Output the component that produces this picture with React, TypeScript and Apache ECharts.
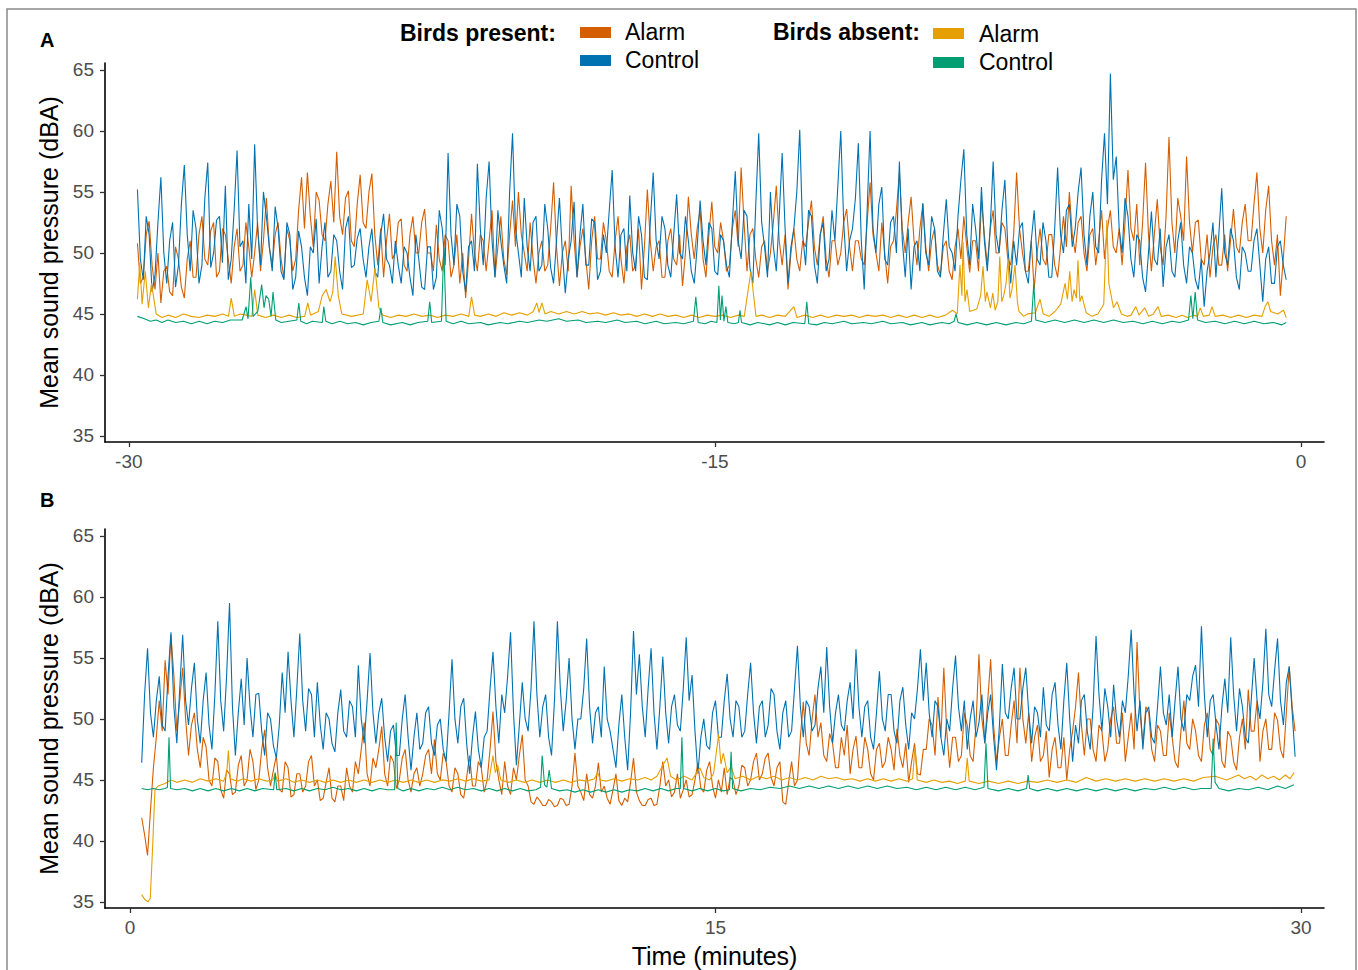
import React, { useEffect, useRef } from "react";
import * as echarts from "echarts";

// ---------- Panel A (before, minutes -30 .. 0) ----------
const A_T0 = -29.78;
const STEP = 0.075;
const aTicksX = [-30, -15, 0];
const yTicks = [35, 40, 45, 50, 55, 60, 65];

// Birds present: Alarm (orange)
const aPresentAlarm = [
  50.8, 47.5, 48, 51.5, 52.6, 49, 47, 50, 45.9, 48.5, 48.9, 46.8, 46.5, 50.5, 49.5, 47.2, 46.3, 49.5, 51, 48,
  48, 51.5, 53, 49.5, 49, 51.8, 52.5, 48, 48.5, 52, 51.5, 49.5, 47.5, 50.5, 52, 48.5, 49, 52.5, 50.5, 48,
  50, 52.5, 48.5, 51, 54.5, 50.5, 49, 51.5, 52.5, 49.5, 48, 52, 51, 48.5, 49.5, 53.5, 56.2, 52, 56.6, 53,
  50.5, 55, 54.3, 51.5, 51, 54, 55.9, 52.5, 58.3, 53, 51.5, 54.5, 55.1, 51, 50.5, 54, 56.4, 52.5, 52, 55,
  56.5, 51.5, 49, 52, 48, 51, 53.2, 49.5, 50, 52.5, 52.8, 49, 48.5, 51.5, 53, 50, 50, 52.5, 53.6, 50,
  50, 48.5, 52.3, 49.5, 48.5, 51.5, 51, 48, 49, 51.5, 47.5, 50, 46.3, 49.5, 53.2, 50, 48.5, 51.5, 51, 48.5,
  51, 53.5, 48, 50.5, 53, 49.5, 48.2, 51.5, 54.3, 50.5, 55, 51.5, 50, 48.5, 52.5, 49.5, 47.5, 50, 51, 48.5,
  49, 52, 55.8, 50.5, 47.3, 50, 51, 48.5, 55.5, 51, 48, 50.5, 52, 49.5, 47, 51, 53, 49.5, 49.5, 52.5,
  51, 48.5, 48, 51, 53, 49.5, 47.5, 50.5, 51.5, 48.5, 49, 52, 47, 50.5, 55.2, 51, 48.5, 50.5, 51, 48,
  48, 51, 52, 49.5, 49, 51.5, 47.3, 50, 54.6, 51.5, 49.5, 52, 53.5, 49.5, 48, 51.5, 54.2, 50.5, 50, 52.5,
  51, 48.5, 49, 52, 53.5, 50.5, 57, 52.5, 48.5, 51.5, 52, 49.5, 48, 50.5, 51, 48.5, 50, 52.5, 55.5, 51,
  49, 51.5, 47, 50, 52, 49.5, 48.5, 51, 50.5, 52.5, 54.3, 50.5, 49, 51.5, 53, 49.5, 48, 51, 51, 49,
  50, 52.5, 53.6, 50.5, 48.5, 51, 51, 49.5, 49, 52.5, 55.8, 51.5, 50, 48.5, 52.5, 50, 47.5, 50.5, 51, 53.5,
  56.6, 52, 50, 52.5, 54.6, 51, 49, 52, 54, 50.5, 48.5, 51, 52, 49, 48.2, 50.5, 51, 48.5, 47.8, 50.5,
  52, 49.5, 53, 50.5, 48.4, 51, 51, 48.5, 54.3, 51.5, 49, 52, 53.5, 50, 50, 52.5, 52, 49.5, 49, 51.5,
  56.6, 52, 50, 48.5, 48.5, 51, 47, 50, 52, 49.5, 49, 51.5, 51.5, 49, 48, 50.5, 53, 50.5, 55, 51.5,
  50, 52.5, 53, 50, 48.5, 51.5, 52, 49, 51, 53.5, 49.5, 52, 53.5, 50.5, 50, 52, 49, 52.5, 56.8, 52,
  51, 54, 49, 52.5, 57.4, 51.5, 48.5, 51.5, 54.4, 50.5, 49, 53, 59.5, 52.5, 50, 54.5, 53, 51, 57.9, 52.5,
  50, 52.5, 52.7, 49.5, 49, 51.5, 48, 50.5, 51.5, 49, 49, 51.5, 48.5, 51, 53.6, 50.5, 50, 52.5, 54, 51,
  51, 54, 56.6, 52, 50, 53.5, 55.5, 51, 49, 51.5, 46.5, 49.5, 53,
];

// Birds present: Control (blue)
const aPresentControl = [
  55.2, 49.5, 47.8, 53, 51.5, 46.8, 48.2, 52.5, 56.2, 50, 47.5, 51, 52.5, 47.2, 49, 54, 57.2, 51.5, 48.5, 53.5,
  52, 47.5, 49, 54.5, 57.4, 48.8, 50, 52.7, 53, 49.2, 55.5, 47.8, 49.5, 53.5, 58.4, 50.5, 51, 47.5, 54, 49.5,
  58.9, 52, 49, 55, 53, 50.5, 48.5, 53.8, 52, 48.5, 47.8, 52.5, 51.5, 47, 48, 51.8, 50.5, 48, 46.5, 50.5,
  50, 52.8, 47.5, 50.5, 52.5, 48, 48.5, 51.5, 51, 48.5, 47, 52, 53, 48.8, 49, 51.2, 52, 49.5, 48, 50.5,
  52, 48.5, 48, 51.5, 53.2, 49.5, 49, 47.5, 51, 49, 47.5, 50.5, 50, 48, 46.5, 51.5, 49.5, 47.2, 47, 50.5,
  50.5, 47, 48, 53.5, 52, 49, 58.2, 51.5, 49, 54, 53, 48.5, 46.8, 50.5, 51, 48.5, 57.3, 52, 49, 54.5,
  57.5, 51, 48, 53.5, 51, 49, 47.5, 55, 59.8, 52, 50, 48, 54.5, 50.5, 48.5, 52.5, 53, 48.5, 49, 54,
  52, 48.8, 47.5, 51, 54.5, 50, 46.7, 49.5, 51, 54.2, 48, 51.5, 54, 49, 49, 52.8, 52.5, 47.8, 48.5, 51.5,
  50, 53.5, 56.8, 50.5, 48, 51.5, 52, 48.5, 54.7, 50, 48.5, 53, 51.5, 48, 47.8, 52.5, 56.6, 51, 49.5, 53,
  52, 49, 48, 51.5, 54.8, 50, 49.5, 53, 51, 48.5, 47.5, 50.5, 54.3, 51, 49, 52.5, 52, 48.5, 48.2, 51.5,
  51, 49, 48, 52.5, 56.7, 51, 49.5, 53.5, 53, 48.8, 47.5, 54, 59.8, 52.5, 50.5, 48, 55, 50.5, 48.5, 53,
  58.2, 52, 47.5, 50.5, 52, 55, 60.1, 51.5, 49, 53.5, 53, 49, 47.5, 51.5, 52.5, 48.5, 49.5, 53.5, 51, 55.5,
  60, 52.5, 48.5, 51, 52, 54.5, 59, 51, 47, 53.5, 60, 52, 50, 54, 55.4, 49.5, 49, 52.5, 53, 50,
  57.5, 51, 48, 52, 47, 50.5, 51, 48.5, 54.1, 50, 49, 53, 52, 48.5, 48, 51.5, 54.4, 50.5, 50, 48.5,
  53, 56, 58.5, 51.5, 49, 54, 52, 49.5, 55.4, 51, 48.5, 52, 57.5, 51.5, 50, 53.5, 56, 50.5, 47.5, 51,
  49, 52, 52.5, 48.5, 47.5, 51, 53.5, 49.5, 49, 52.5, 51, 48, 48, 52, 57, 51.5, 50, 53.5, 54, 50.5,
  52, 55, 57, 51.5, 49, 53, 55, 50.5, 50, 56, 59.8, 54, 64.7, 56, 57.9, 52, 50, 54.5, 53, 49.5,
  48, 51.5, 51, 48, 46.8, 50, 53.4, 49.5, 49, 52, 47.2, 50.5, 51.5, 48.5, 48, 51, 52.5, 49, 47.5, 50.5,
  50, 47.8, 47, 49.5, 45.6, 48.5, 50, 52.5, 48, 51.5, 55.3, 50, 49, 52, 51, 48, 47, 50.5, 50, 48.5,
  48.5, 51, 52, 49, 46, 49.5, 50.5, 47.5, 47.5, 50.5, 51, 49, 47.8,
];

// Birds absent: Alarm (yellow) as [minute, dBA]
const aAbsentAlarm: [number, number][] = [
  [-29.78, 46.2], [-29.72, 49.2], [-29.66, 45.8], [-29.58, 48.5], [-29.5, 45.5], [-29.42, 47.5], [-29.3, 45.0],
  [-29.15, 44.7], [-29.0, 44.9], [-28.8, 44.7], [-28.6, 45.0], [-28.4, 44.8], [-28.2, 44.7], [-28.0, 44.9],
  [-27.8, 44.8], [-27.6, 45.0], [-27.45, 44.8], [-27.38, 46.3], [-27.3, 44.8], [-27.15, 45.0], [-27.0, 44.9],
  [-26.85, 44.8], [-26.78, 47.0], [-26.7, 44.9], [-26.5, 44.7], [-26.3, 44.9], [-26.1, 44.7], [-25.9, 44.9],
  [-25.7, 44.7], [-25.5, 44.8], [-25.42, 45.9], [-25.35, 44.9], [-25.15, 45.2], [-25.05, 46.5], [-24.95, 47.0],
  [-24.85, 46.0], [-24.78, 46.8], [-24.72, 49.7], [-24.64, 46.5], [-24.55, 45.0], [-24.3, 44.8], [-24.0, 45.0],
  [-23.9, 47.8], [-23.8, 46.0], [-23.7, 48.8], [-23.6, 45.5], [-23.5, 44.9], [-23.3, 44.7], [-23.1, 44.9],
  [-22.9, 44.8], [-22.7, 45.0], [-22.5, 44.8], [-22.3, 44.9], [-22.1, 44.7], [-21.9, 44.9], [-21.7, 44.8],
  [-21.5, 45.0], [-21.3, 44.8], [-21.23, 46.4], [-21.15, 44.9], [-21.0, 44.8], [-20.8, 45.0], [-20.6, 44.8],
  [-20.4, 45.1], [-20.2, 44.9], [-20.0, 45.1], [-19.8, 44.9], [-19.65, 45.2], [-19.56, 45.9], [-19.5, 45.1],
  [-19.43, 45.9], [-19.35, 45.0], [-19.2, 45.2], [-19.0, 45.0], [-18.8, 45.2], [-18.6, 45.0], [-18.4, 45.2],
  [-18.2, 45.0], [-18.0, 45.1], [-17.8, 44.9], [-17.6, 45.1], [-17.4, 44.9], [-17.2, 45.0], [-17.0, 44.8],
  [-16.8, 45.0], [-16.6, 44.8], [-16.4, 45.0], [-16.2, 44.8], [-16.0, 44.9], [-15.8, 44.7], [-15.6, 44.9],
  [-15.4, 44.7], [-15.2, 44.9], [-15.0, 44.8], [-14.8, 44.9], [-14.6, 44.7], [-14.4, 44.9], [-14.25, 44.8],
  [-14.08, 48.5], [-13.95, 44.8], [-13.8, 44.9], [-13.6, 44.7], [-13.4, 44.9], [-13.2, 44.8], [-12.98, 45.6],
  [-12.9, 44.7], [-12.7, 44.9], [-12.5, 44.7], [-12.3, 44.9], [-12.1, 44.7], [-11.9, 44.9], [-11.7, 44.8],
  [-11.5, 44.9], [-11.3, 44.7], [-11.1, 44.9], [-10.9, 44.8], [-10.7, 44.9], [-10.5, 44.7], [-10.3, 44.9],
  [-10.1, 44.7], [-9.9, 44.9], [-9.7, 44.7], [-9.5, 44.9], [-9.3, 44.7], [-9.1, 44.9], [-8.92, 45.3],
  [-8.8, 45.0], [-8.73, 49.0], [-8.68, 46.5], [-8.65, 50.9], [-8.6, 46.0], [-8.55, 47.0], [-8.48, 45.2],
  [-8.3, 45.4], [-8.2, 46.5], [-8.14, 48.9], [-8.08, 46.0], [-8.04, 46.8], [-7.95, 45.5], [-7.89, 46.7],
  [-7.83, 45.3], [-7.76, 46.0], [-7.71, 49.7], [-7.66, 46.0], [-7.61, 46.5], [-7.55, 47.5], [-7.5, 49.5],
  [-7.45, 46.3], [-7.4, 47.0], [-7.32, 49.0], [-7.26, 46.0], [-7.22, 45.2], [-7.1, 44.8], [-7.0, 45.0],
  [-6.8, 45.1], [-6.68, 46.2], [-6.6, 45.0], [-6.45, 44.8], [-6.3, 45.2], [-6.15, 45.8], [-6.04, 47.5],
  [-5.98, 46.2], [-5.92, 48.5], [-5.86, 46.0], [-5.81, 47.0], [-5.75, 46.3], [-5.71, 49.4], [-5.66, 46.0],
  [-5.61, 46.5], [-5.5, 45.1], [-5.35, 44.8], [-5.2, 45.0], [-5.05, 45.8], [-4.97, 52.7], [-4.92, 47.5],
  [-4.89, 47.0], [-4.8, 45.5], [-4.71, 46.0], [-4.6, 45.0], [-4.45, 44.8], [-4.35, 44.9], [-4.23, 45.6],
  [-4.15, 44.9], [-4.0, 45.5], [-3.9, 44.8], [-3.78, 45.0], [-3.66, 45.6], [-3.58, 44.8], [-3.4, 44.9],
  [-3.2, 44.7], [-3.05, 44.9], [-2.9, 44.7], [-2.75, 44.9], [-2.65, 44.8], [-2.58, 45.5], [-2.5, 44.8],
  [-2.35, 44.9], [-2.28, 45.6], [-2.2, 44.8], [-2.0, 44.9], [-1.8, 44.7], [-1.6, 44.9], [-1.4, 44.7],
  [-1.2, 44.9], [-1.0, 44.8], [-0.92, 45.6], [-0.85, 46.0], [-0.78, 45.2], [-0.6, 45.0], [-0.45, 45.3],
  [-0.38, 44.7],
];

// Birds absent: Control (green) as [minute, dBA]
const aAbsentControl: [number, number][] = [
  [-29.78, 44.8], [-29.6, 44.6], [-29.45, 44.4], [-29.3, 44.5], [-29.15, 44.3], [-29.0, 44.5], [-28.8, 44.3],
  [-28.6, 44.4], [-28.4, 44.2], [-28.2, 44.4], [-28.0, 44.2], [-27.8, 44.4], [-27.6, 44.3], [-27.4, 44.5],
  [-27.1, 44.5], [-27.0, 45.6], [-26.95, 44.6], [-26.88, 48.0], [-26.82, 44.8], [-26.7, 45.2], [-26.6, 47.4],
  [-26.54, 45.5], [-26.49, 46.5], [-26.42, 46.2], [-26.36, 44.8], [-26.31, 46.8], [-26.24, 44.5], [-26.1, 44.3],
  [-25.9, 44.4], [-25.7, 44.5], [-25.65, 45.9], [-25.6, 44.4], [-25.45, 44.2], [-25.3, 44.4], [-25.05, 44.3],
  [-25.01, 45.6], [-24.96, 44.4], [-24.8, 44.2], [-24.6, 44.4], [-24.4, 44.2], [-24.2, 44.3], [-24.0, 44.1],
  [-23.8, 44.3], [-23.6, 44.4], [-23.55, 45.5], [-23.5, 44.3], [-23.3, 44.1], [-23.0, 44.3], [-22.8, 44.1],
  [-22.6, 44.3], [-22.35, 44.4], [-22.3, 46.0], [-22.25, 44.3], [-22.0, 44.4], [-21.94, 50.4], [-21.88, 44.4],
  [-21.7, 44.2], [-21.5, 44.4], [-21.3, 44.2], [-21.0, 44.3], [-20.8, 44.1], [-20.5, 44.3], [-20.3, 44.2],
  [-20.0, 44.4], [-19.8, 44.3], [-19.5, 44.5], [-19.3, 44.4], [-19.0, 44.6], [-18.8, 44.4], [-18.5, 44.5],
  [-18.3, 44.3], [-18.0, 44.4], [-17.8, 44.3], [-17.5, 44.5], [-17.3, 44.3], [-17.0, 44.4], [-16.8, 44.2],
  [-16.5, 44.4], [-16.3, 44.2], [-16.0, 44.3], [-15.8, 44.2], [-15.55, 44.4], [-15.49, 46.4], [-15.43, 44.3],
  [-15.25, 44.2], [-15.1, 44.4], [-14.95, 44.3], [-14.9, 47.3], [-14.86, 44.5], [-14.82, 46.5], [-14.77, 44.4],
  [-14.72, 45.6], [-14.67, 44.3], [-14.5, 44.2], [-14.4, 44.3], [-14.36, 45.3], [-14.32, 44.3], [-14.1, 44.1],
  [-13.9, 44.3], [-13.6, 44.1], [-13.4, 44.3], [-13.2, 44.1], [-13.0, 44.3], [-12.7, 44.2], [-12.65, 46.0],
  [-12.6, 44.2], [-12.4, 44.1], [-12.2, 44.3], [-12.0, 44.2], [-11.7, 44.4], [-11.5, 44.2], [-11.2, 44.3],
  [-11.0, 44.2], [-10.7, 44.4], [-10.5, 44.2], [-10.2, 44.3], [-10.0, 44.1], [-9.7, 44.3], [-9.5, 44.1],
  [-9.2, 44.3], [-9.0, 44.2], [-8.88, 44.4], [-8.83, 45.0], [-8.78, 44.3], [-8.55, 44.1], [-8.3, 44.3],
  [-8.05, 44.1], [-7.8, 44.3], [-7.55, 44.1], [-7.3, 44.3], [-7.1, 44.2], [-6.9, 44.4], [-6.84, 47.5],
  [-6.79, 44.5], [-6.55, 44.3], [-6.3, 44.5], [-6.05, 44.3], [-5.8, 44.5], [-5.55, 44.3], [-5.3, 44.5],
  [-5.05, 44.3], [-4.8, 44.5], [-4.55, 44.3], [-4.3, 44.4], [-4.05, 44.2], [-3.8, 44.4], [-3.55, 44.2],
  [-3.3, 44.4], [-3.1, 44.3], [-2.88, 44.5], [-2.82, 46.5], [-2.77, 44.6], [-2.71, 46.8], [-2.65, 44.5],
  [-2.45, 44.3], [-2.2, 44.4], [-1.95, 44.2], [-1.7, 44.4], [-1.45, 44.2], [-1.2, 44.4], [-0.95, 44.2],
  [-0.7, 44.3], [-0.5, 44.1], [-0.38, 44.3],
];

// ---------- Panel B (after, minutes 0 .. 30) ----------
const B_T0 = 0.3;
const bTicksX = [0, 15, 30];

const bPresentAlarm = [
  41.9, 40.5, 38.8, 42.5, 46, 48.5, 51.5, 49, 54.8, 52, 56.9, 53.5, 49, 51.5, 54.2, 50, 47, 49.5, 50.5, 47.5,
  46, 48.5, 47.7, 45, 44.5, 46.8, 46.5, 44.2, 43.5, 45.8, 45.5, 43.8, 44, 46.2, 47, 44.5, 45, 47.5, 46.5, 44.2,
  45, 47.5, 49.1, 46, 44.5, 45.8, 47, 44.2, 44, 46.5, 46, 43.6, 43.8, 45.5, 45.5, 44, 44.5, 46.5, 47, 44.5,
  45, 43.3, 43.5, 44.8, 46, 43.5, 43.2, 44.5, 44.5, 43.3, 46, 44.5, 44, 46.5, 45.5, 47.5, 49.7, 45.5, 44.5, 46.8,
  46, 47.5, 49.4, 45.5, 44.5, 47, 46.5, 44.3, 45, 46.8, 47.5, 45, 44, 45.5, 46, 44.5, 45.5, 47, 47.5, 45.5,
  48.3, 45.5, 45, 47.2, 46.5, 44.5, 44, 46, 45.5, 43.8, 43.5, 45.2, 47, 44.5, 44.5, 46.5, 46, 44, 45, 47.5,
  50.6, 46.5, 45, 43.8, 46.5, 44.5, 43.8, 46, 45, 47, 48.7, 45, 44.5, 43.2, 43, 43.6, 43.3, 42.9, 42.9, 43.4,
  43.2, 42.8, 42.9, 43.5, 43.4, 42.9, 43, 44.5, 47.2, 44.5, 44, 43.3, 45.5, 43.8, 43.5, 44.5, 46.4, 44, 44.5, 43.5,
  43, 44.2, 45.5, 43.3, 42.9, 43.5, 43.2, 44.8, 46.8, 44, 43.3, 42.9, 42.9, 43.4, 43.5, 42.9, 43, 44.5, 46.5, 44.5,
  45, 43.6, 44, 45.5, 43.5, 44.2, 45, 43.6, 43.8, 45, 46.4, 44.3, 44, 45.8, 46.5, 44.5, 43.5, 45, 44, 46,
  43.8, 45.2, 45, 43.8, 44.5, 46.2, 46, 44.5, 45, 46.5, 47.2, 45, 45.5, 46.8, 47.2, 45.2, 44.5, 46, 46.5, 43.2,
  43, 44.8, 46.5, 44.5, 45, 48.5, 51.4, 48, 47, 50, 52, 48.5, 49.7, 47, 46.5, 48.8, 48, 46, 46, 48.5,
  47, 49.5, 45.5, 47.5, 48.6, 46, 46, 48.5, 47.5, 45.5, 45, 47.5, 48, 46, 46.5, 48.5, 47.5, 45.8, 49.2, 47,
  46, 48, 44.8, 46.5, 48, 45.5, 45.4, 47.5, 47.5, 50, 49.5, 47, 51.8, 48.5, 54.2, 49, 46, 48.5, 48.5, 46.5,
  47, 50.5, 49.5, 47, 46.5, 49.5, 55.3, 50, 48, 51.5, 54.9, 49.5, 46.5, 48.5, 50, 47, 47, 49.5, 51.5, 48,
  54.2, 50, 48, 50.5, 46.5, 48.5, 49.5, 46.5, 47, 49, 45.2, 47.5, 48.5, 46, 46, 48.5, 45, 47.5, 49, 51,
  53.8, 49.5, 47, 50, 50, 47.5, 46.5, 49.5, 49, 46.5, 47.5, 50, 51, 48, 48, 50.5, 46.5, 48.5, 50.5, 47.5,
  56.3, 50.5, 48, 51, 50.5, 47.5, 46.5, 49.5, 49, 47, 47, 50.5, 48.5, 46.5, 46, 49, 51.5, 48, 47.5, 50,
  49, 47, 46.5, 49.5, 50.5, 47.5, 47, 50, 49.5, 46.5, 46, 49, 48.5, 46.5, 45.8, 48.5, 50, 47.5, 52.4, 49,
  49, 51.5, 46.5, 49, 50, 47.5, 47.5, 50.5, 49.9, 47.5, 46.8, 50.5, 54.3, 51, 49,
];

const bPresentControl = [
  46.4, 52, 55.8, 50.5, 48.5, 51.5, 53.5, 49.5, 49, 53.5, 57.1, 51, 48, 52.5, 56.9, 51.5, 49.5, 52.5, 54.6, 50,
  48, 51.5, 53.8, 49.5, 47.5, 52, 58, 51.5, 49, 53.5, 59.5, 51, 47, 50.5, 53.3, 49.5, 55, 51, 48.5, 52,
  52.1, 49, 47, 50.5, 50, 47.8, 46.8, 49.5, 53.8, 50.5, 55.5, 51.5, 48.5, 52.5, 57, 51.5, 49, 52.5, 52, 48.5,
  53, 49.5, 47.5, 50.5, 50, 48, 47.3, 50.5, 52.4, 49, 48.5, 51.5, 51, 48.5, 54.4, 50, 48, 51.5, 55.4, 50.5,
  48, 50.5, 51.7, 48.5, 46.5, 49, 49.5, 47, 47, 50, 52, 48.5, 45.8, 48.5, 50.5, 47.5, 48, 50.5, 51, 48,
  47, 49.5, 50, 47.5, 46.5, 50.5, 54.9, 50, 48, 51, 51.7, 48, 45.5, 48.5, 50.6, 47.5, 46, 48.5, 49, 52.5,
  55.5, 51, 48, 52, 50.5, 53.5, 57.1, 50.5, 46.2, 49.5, 53, 50, 49, 52.5, 58, 52, 48.5, 51, 52, 48.5,
  47, 51.5, 58, 52.5, 49, 51.5, 55, 50, 47.5, 50, 50, 52.5, 56.6, 51, 48, 50.5, 51, 48.5, 54.3, 50,
  49, 47.5, 46, 49.5, 52, 48.5, 45.8, 50.5, 57.2, 52, 55.3, 51, 48.5, 52.5, 55.8, 50.5, 47.5, 51, 55.1, 50.5,
  48, 51, 52, 49.5, 49, 52.5, 56.7, 51.5, 53.6, 49, 45.5, 48.5, 50, 47.8, 47.5, 50.5, 51.5, 48.5, 48.5, 51.5,
  53.7, 50, 48.5, 51.5, 51, 48.5, 49, 52, 54.6, 50.5, 48, 51, 51.5, 48.5, 49.5, 52.5, 52, 49, 47.5, 50.5,
  51.5, 48.5, 49, 52.5, 56, 51, 48.5, 51.5, 51, 49, 49.5, 52.5, 54.3, 50.5, 55.9, 51, 48, 50.5, 52, 49.5,
  49, 51.5, 53, 50, 55.7, 51, 48.5, 51, 51.5, 48.5, 47.5, 50.5, 53.9, 50, 49, 52, 52, 49, 48, 51.5,
  52.6, 49.5, 47.5, 50.5, 50, 52.5, 55.7, 51.5, 54.6, 50.5, 48.5, 51.5, 51, 48.5, 47, 50, 49, 52.5, 55.2, 51,
  49, 51.5, 47.5, 50, 51.5, 48.5, 49.7, 52, 48, 50.5, 52, 48.5, 45.8, 49.5, 54.5, 50.5, 50, 52.5, 54.2, 50,
  50, 52.5, 54.2, 50.5, 48, 51, 50.5, 48.5, 52.6, 49.5, 49, 52, 53, 49.5, 47.5, 51.5, 54.6, 50, 46.5, 49.5,
  48, 51.5, 52, 49, 47.5, 51, 56.8, 52, 49, 52.5, 51, 48.5, 52.8, 50, 48.5, 51.5, 50.5, 53.5, 57.3, 52,
  49, 51.5, 47.5, 50.5, 51, 48.5, 48, 51, 54.3, 50.5, 49.5, 52, 48.5, 51.5, 54.3, 50, 49, 52, 51.5, 53.5,
  54.4, 51, 57.6, 52, 48.5, 51.5, 52, 49.5, 47.5, 51, 53.3, 50.5, 56.7, 52, 49, 52.5, 51, 48.5, 48, 51.5,
  55, 51.5, 50, 53, 57.4, 52, 51, 54, 56.6, 51.5, 49.5, 53, 54.3, 50.5, 46.9,
];

const bAbsentAlarm: [number, number][] = [
  [0.3, 35.6], [0.38, 35.2], [0.46, 35.0], [0.52, 35.3], [0.58, 39.5], [0.64, 44.2], [0.72, 44.5], [0.9, 44.7],
  [1.05, 45.0], [1.2, 44.8], [1.4, 45.0], [1.6, 44.8], [1.8, 45.1], [2.0, 44.9], [2.2, 45.1], [2.4, 44.9],
  [2.48, 45.6], [2.52, 47.4], [2.57, 45.1], [2.75, 44.9], [2.9, 45.1], [3.1, 44.9], [3.3, 45.1], [3.5, 44.9],
  [3.66, 45.0], [3.72, 45.5], [3.78, 44.9], [4.0, 45.1], [4.2, 44.8], [4.4, 45.0], [4.6, 44.8], [4.8, 45.0],
  [5.0, 44.8], [5.2, 45.0], [5.4, 44.8], [5.6, 45.0], [5.8, 44.8], [6.0, 45.0], [6.2, 44.8], [6.4, 45.0],
  [6.6, 44.8], [6.8, 45.0], [7.0, 44.8], [7.2, 45.0], [7.4, 44.8], [7.6, 45.0], [7.8, 44.8], [8.0, 45.0],
  [8.2, 44.9], [8.4, 45.1], [8.6, 44.9], [8.8, 45.1], [9.0, 44.9], [9.2, 45.0], [9.3, 47.0], [9.36, 45.6],
  [9.42, 46.2], [9.5, 45.0], [9.7, 44.8], [9.9, 45.0], [10.1, 44.8], [10.3, 45.0], [10.5, 44.8], [10.7, 45.0],
  [10.9, 44.8], [11.1, 45.0], [11.3, 44.8], [11.5, 45.0], [11.7, 44.9], [11.9, 45.1], [11.98, 45.6], [12.05, 45.0],
  [12.2, 44.9], [12.4, 45.1], [12.6, 44.9], [12.8, 45.1], [13.0, 45.0], [13.2, 45.2], [13.35, 45.0], [13.5, 45.3],
  [13.65, 46.2], [13.76, 46.8], [13.85, 45.3], [14.0, 45.0], [14.2, 45.3], [14.4, 45.0], [14.6, 46.0], [14.7, 45.2],
  [14.85, 45.0], [14.95, 45.5], [15.08, 48.7], [15.14, 46.3], [15.2, 47.2], [15.3, 45.6], [15.4, 46.1], [15.5, 45.1],
  [15.7, 45.3], [15.9, 45.0], [16.1, 45.3], [16.3, 45.1], [16.5, 45.3], [16.7, 45.0], [16.9, 45.2], [17.1, 45.0],
  [17.3, 45.2], [17.5, 45.0], [17.7, 45.3], [17.9, 45.1], [18.1, 45.2], [18.3, 45.0], [18.5, 45.1], [18.7, 44.9],
  [18.9, 45.1], [19.1, 44.9], [19.3, 45.1], [19.5, 44.9], [19.7, 45.1], [19.9, 44.9], [20.05, 45.1], [20.11, 47.7],
  [20.17, 45.0], [20.4, 44.8], [20.6, 45.0], [20.8, 44.8], [21.0, 44.9], [21.2, 44.7], [21.4, 44.9], [21.45, 46.8],
  [21.5, 44.9], [21.75, 44.7], [22.0, 44.9], [22.25, 44.7], [22.5, 44.9], [22.75, 44.7], [23.0, 44.9], [23.25, 44.8],
  [23.5, 45.0], [23.75, 44.8], [24.0, 45.0], [24.25, 44.8], [24.5, 45.2], [24.75, 44.9], [25.0, 45.1], [25.25, 44.9],
  [25.5, 45.1], [25.75, 44.9], [26.0, 45.1], [26.25, 44.9], [26.5, 45.1], [26.75, 44.9], [27.0, 45.1], [27.25, 44.9],
  [27.5, 45.2], [27.8, 45.3], [28.1, 45.0], [28.4, 45.4], [28.55, 45.1], [28.7, 45.3], [28.85, 45.0], [29.0, 45.4],
  [29.15, 45.1], [29.3, 45.3], [29.45, 45.0], [29.6, 45.4], [29.72, 45.1], [29.82, 45.6],
];

const bAbsentControl: [number, number][] = [
  [0.3, 44.3], [0.45, 44.2], [0.6, 44.3], [0.75, 44.2], [0.9, 44.3], [0.96, 44.4], [1.0, 48.5], [1.04, 44.3],
  [1.2, 44.2], [1.4, 44.3], [1.6, 44.1], [1.8, 44.3], [2.0, 44.1], [2.2, 44.3], [2.4, 44.1], [2.6, 44.3],
  [2.8, 44.1], [3.0, 44.3], [3.2, 44.1], [3.4, 44.3], [3.68, 44.2], [3.72, 45.6], [3.76, 44.2], [4.0, 44.3],
  [4.2, 44.1], [4.4, 44.3], [4.6, 44.1], [4.8, 44.3], [5.0, 44.2], [5.2, 44.4], [5.4, 44.2], [5.6, 44.3],
  [5.8, 44.1], [6.0, 44.3], [6.2, 44.1], [6.4, 44.3], [6.6, 44.2], [6.78, 44.2], [6.82, 49.7], [6.86, 44.3],
  [7.0, 44.1], [7.2, 44.3], [7.4, 44.1], [7.6, 44.3], [7.8, 44.2], [8.0, 44.4], [8.2, 44.2], [8.4, 44.4],
  [8.6, 44.2], [8.8, 44.3], [9.0, 44.1], [9.2, 44.3], [9.4, 44.1], [9.6, 44.3], [9.8, 44.1], [10.0, 44.3],
  [10.2, 44.1], [10.4, 44.2], [10.52, 44.4], [10.56, 47.0], [10.62, 44.6], [10.68, 44.4], [10.74, 45.8], [10.8, 44.3],
  [11.0, 44.1], [11.2, 44.2], [11.4, 44.0], [11.6, 44.2], [11.8, 44.0], [12.0, 44.2], [12.2, 44.0], [12.4, 44.2],
  [12.6, 44.0], [12.8, 44.2], [13.0, 44.1], [13.2, 44.3], [13.4, 44.1], [13.6, 44.3], [13.8, 44.1], [14.0, 44.3],
  [14.1, 44.3], [14.14, 48.5], [14.18, 44.3], [14.4, 44.1], [14.6, 44.3], [14.8, 44.1], [15.0, 44.3], [15.2, 44.1],
  [15.36, 44.2], [15.4, 47.3], [15.44, 44.3], [15.65, 44.1], [15.9, 44.3], [16.15, 44.2], [16.4, 44.4], [16.65, 44.3],
  [16.9, 44.5], [17.15, 44.3], [17.4, 44.5], [17.65, 44.3], [17.9, 44.5], [18.15, 44.3], [18.4, 44.5], [18.65, 44.3],
  [18.9, 44.5], [19.15, 44.3], [19.4, 44.5], [19.65, 44.3], [19.9, 44.4], [20.15, 44.2], [20.4, 44.4], [20.65, 44.2],
  [20.9, 44.4], [21.15, 44.2], [21.4, 44.4], [21.65, 44.2], [21.88, 44.4], [21.93, 48.0], [21.98, 44.3], [22.25, 44.1],
  [22.5, 44.3], [22.75, 44.1], [22.97, 44.3], [23.01, 45.4], [23.05, 44.3], [23.25, 44.1], [23.5, 44.3], [23.75, 44.1],
  [24.0, 44.3], [24.25, 44.1], [24.5, 44.3], [24.75, 44.1], [25.0, 44.3], [25.25, 44.1], [25.5, 44.3], [25.75, 44.1],
  [26.0, 44.3], [26.25, 44.2], [26.5, 44.4], [26.75, 44.2], [27.0, 44.4], [27.25, 44.2], [27.45, 44.3], [27.7, 44.3],
  [27.75, 48.4], [27.8, 44.8], [27.9, 44.3], [28.15, 44.1], [28.4, 44.3], [28.65, 44.2], [28.9, 44.4], [29.15, 44.2],
  [29.4, 44.5], [29.6, 44.3], [29.82, 44.6],
];

const COLORS = {
  presentAlarm: "#D55E00",
  presentControl: "#0072B2",
  absentAlarm: "#E69F00",
  absentControl: "#009E73",
};

const FONT = "'Liberation Sans', Arial, Helvetica, sans-serif";

function withTime(values: number[], t0: number): [number, number][] {
  return values.map((v, i) => [t0 + i * STEP, v]);
}

function xAxisCfg(gridIndex: number, min: number, max: number, ticks: number[], name?: string) {
  return {
    type: "value",
    gridIndex,
    min,
    max,
    name: name || "",
    nameLocation: "middle",
    nameGap: 35,
    nameTextStyle: { fontSize: 25, color: "#000", fontFamily: FONT },
    axisLine: { show: true, onZero: false, lineStyle: { color: "#000", width: 1.6 } },
    axisTick: { show: true, length: 5, customValues: ticks, lineStyle: { color: "#333", width: 1.3 } },
    axisLabel: { customValues: ticks, color: "#4D4D4D", fontSize: 19, margin: 10, fontFamily: FONT },
    splitLine: { show: false },
  };
}

function yAxisCfg(gridIndex: number) {
  return {
    type: "value",
    gridIndex,
    min: 34.5,
    max: 65.57,
    name: "Mean sound pressure (dBA)",
    nameLocation: "middle",
    nameGap: 44,
    nameTextStyle: { fontSize: 25, color: "#000", fontFamily: FONT },
    axisLine: { show: true, onZero: false, lineStyle: { color: "#000", width: 1.6 } },
    axisTick: { show: true, length: 5, customValues: yTicks, lineStyle: { color: "#333", width: 1.3 } },
    axisLabel: { customValues: yTicks, color: "#4D4D4D", fontSize: 19, margin: 11, fontFamily: FONT },
    splitLine: { show: false },
  };
}

function lineSeries(name: string, data: [number, number][], color: string, idx: number, z: number) {
  return {
    type: "line",
    name,
    data,
    xAxisIndex: idx,
    yAxisIndex: idx,
    showSymbol: false,
    symbol: "none",
    z,
    silent: true,
    lineStyle: { color, width: 1.1 },
    itemStyle: { color },
  };
}

export default function App() {
  const ref = useRef<HTMLDivElement>(null);

  useEffect(() => {
    if (!ref.current) return;
    const chart = echarts.init(ref.current, null, { renderer: "svg" });
    const legendText = { fontSize: 23, fill: "#000", fontFamily: FONT };
    const option = {
      animation: false,
      backgroundColor: "#fff",
      grid: [
        { left: 105, top: 63, width: 1219, height: 379 },
        { left: 105, top: 529, width: 1219, height: 379 },
      ],
      xAxis: [
        xAxisCfg(0, -30.61, 0.587, aTicksX),
        xAxisCfg(1, -0.64, 30.59, bTicksX, "Time (minutes)"),
      ],
      yAxis: [yAxisCfg(0), yAxisCfg(1)],
      series: [
        lineSeries("Birds present: Alarm", withTime(aPresentAlarm, A_T0), COLORS.presentAlarm, 0, 2),
        lineSeries("Birds present: Control", withTime(aPresentControl, A_T0), COLORS.presentControl, 0, 3),
        lineSeries("Birds absent: Alarm", aAbsentAlarm, COLORS.absentAlarm, 0, 4),
        lineSeries("Birds absent: Control", aAbsentControl, COLORS.absentControl, 0, 5),
        lineSeries("Birds present: Alarm", withTime(bPresentAlarm, B_T0), COLORS.presentAlarm, 1, 2),
        lineSeries("Birds present: Control", withTime(bPresentControl, B_T0), COLORS.presentControl, 1, 3),
        lineSeries("Birds absent: Alarm", bAbsentAlarm, COLORS.absentAlarm, 1, 4),
        lineSeries("Birds absent: Control", bAbsentControl, COLORS.absentControl, 1, 5),
      ],
      graphic: [
        {
          type: "rect",
          shape: { x: 7, y: 9, width: 1349, height: 975 },
          style: { fill: "none", stroke: "#8a8a8a", lineWidth: 1.5 },
          silent: true,
        },
        { type: "text", x: 40, y: 40, style: { text: "A", fontSize: 20, fontWeight: "bold", fill: "#000", fontFamily: FONT, verticalAlign: "middle" } },
        { type: "text", x: 40, y: 500, style: { text: "B", fontSize: 20, fontWeight: "bold", fill: "#000", fontFamily: FONT, verticalAlign: "middle" } },
        { type: "text", x: 400, y: 33, style: { text: "Birds present:", fontWeight: "bold", verticalAlign: "middle", ...legendText } },
        { type: "rect", shape: { x: 580, y: 27, width: 31, height: 11 }, style: { fill: COLORS.presentAlarm } },
        { type: "text", x: 625, y: 32, style: { text: "Alarm", verticalAlign: "middle", ...legendText } },
        { type: "rect", shape: { x: 580, y: 55, width: 31, height: 11 }, style: { fill: COLORS.presentControl } },
        { type: "text", x: 625, y: 60, style: { text: "Control", verticalAlign: "middle", ...legendText } },
        { type: "text", x: 773, y: 32, style: { text: "Birds absent:", fontWeight: "bold", verticalAlign: "middle", ...legendText } },
        { type: "rect", shape: { x: 933, y: 28, width: 31, height: 11 }, style: { fill: COLORS.absentAlarm } },
        { type: "text", x: 979, y: 34, style: { text: "Alarm", verticalAlign: "middle", ...legendText } },
        { type: "rect", shape: { x: 933, y: 57, width: 31, height: 11 }, style: { fill: COLORS.absentControl } },
        { type: "text", x: 979, y: 62, style: { text: "Control", verticalAlign: "middle", ...legendText } },
      ],
    };
    chart.setOption(option as any);
    return () => chart.dispose();
  }, []);

  return (
    <div
      ref={ref}
      style={{ position: "absolute", left: 0, top: 0, width: 1358, height: 970, background: "#fff" }}
    />
  );
}
